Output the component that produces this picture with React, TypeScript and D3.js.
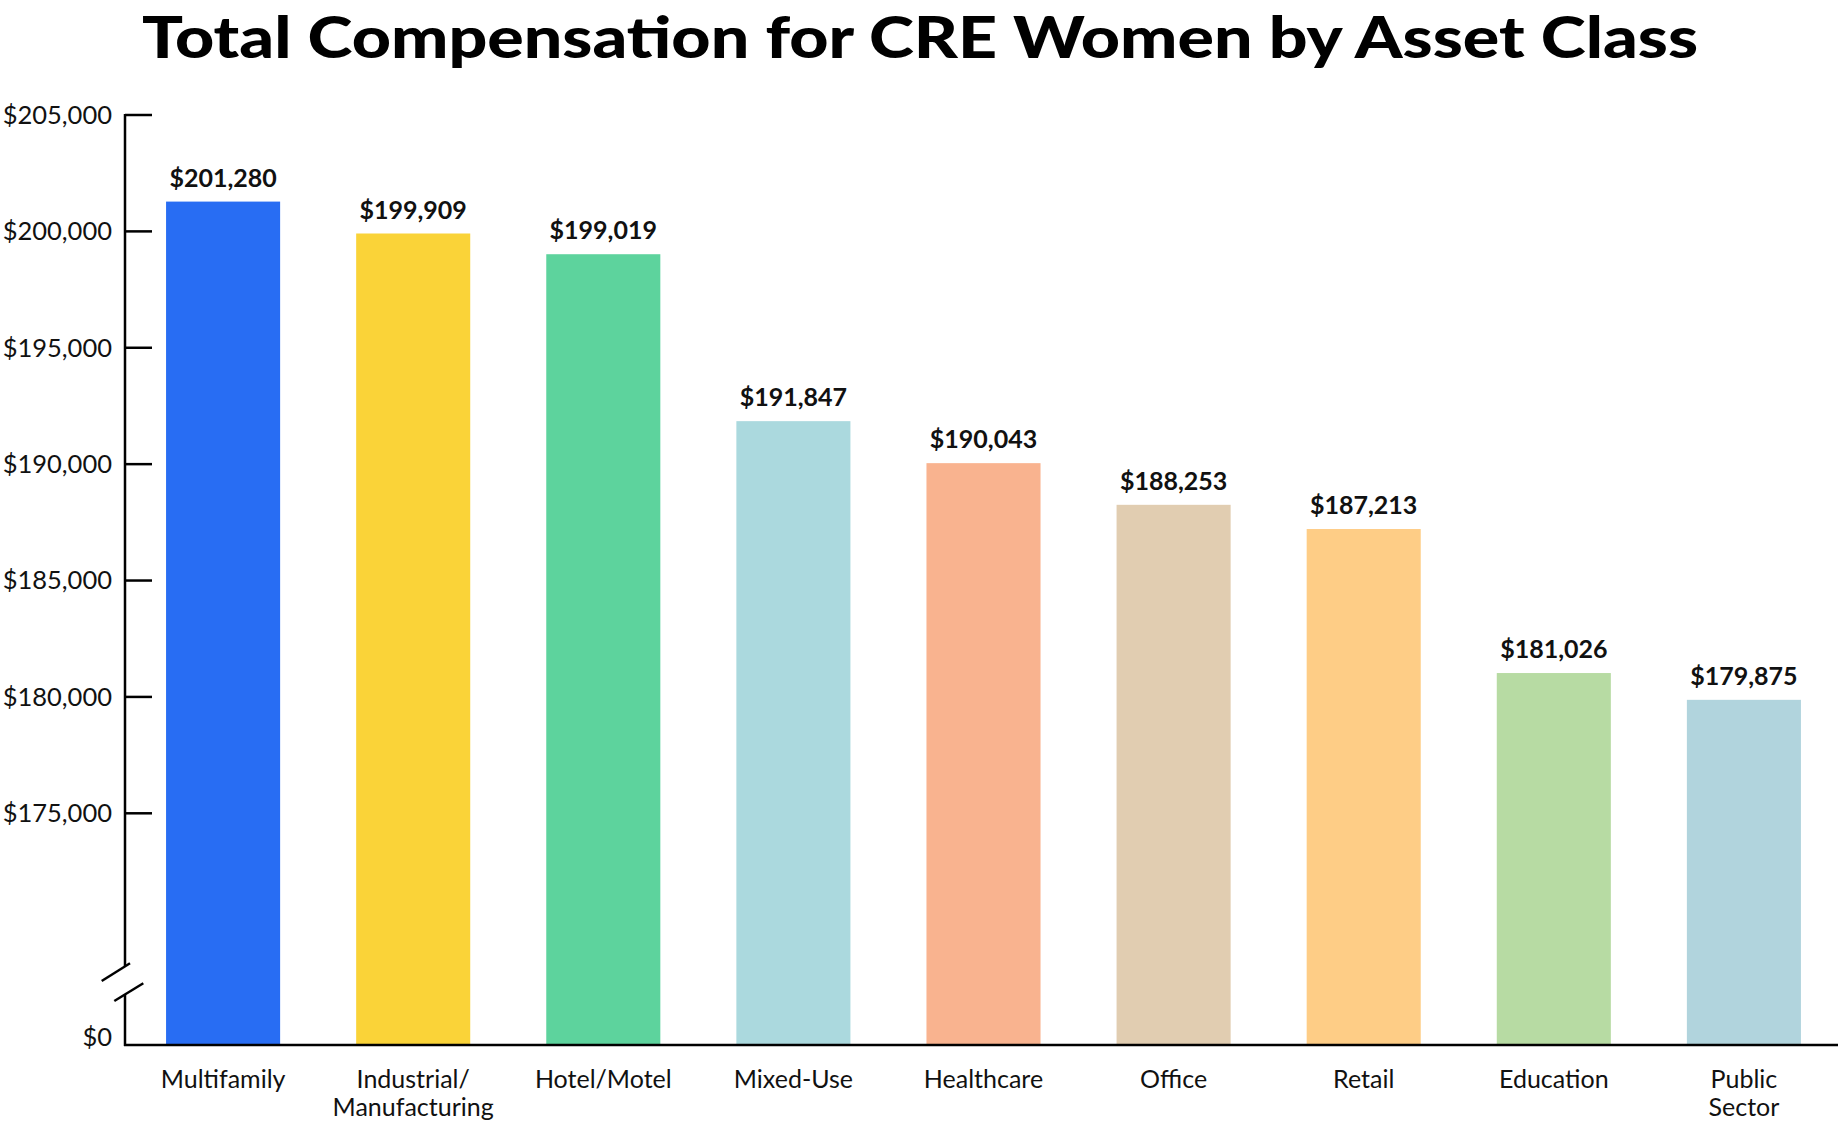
import React from 'react';
import * as d3 from 'd3';

const categories = ['Multifamily', 'Industrial/\nManufacturing', 'Hotel/Motel', 'Mixed-Use', 'Healthcare', 'Office', 'Retail', 'Education', 'Public\nSector'];
const values = [201280, 199909, 199019, 191847, 190043, 188253, 187213, 181026, 179875];
const colors = ['#286DF3', '#FAD338', '#5DD39D', '#ABD9DE', '#F9B38F', '#E1CDB1', '#FECD86', '#B7DBA3', '#B1D4DD'];
const yTicks = [205000, 200000, 195000, 190000, 185000, 180000, 175000];

const width = 1840;
const height = 1125;
const axisX = 125;
const baseY = 1045;
const font = 'Lato, "Noto Sans", sans-serif';

const x = d3.scaleBand<string>()
  .domain(categories)
  .range([axisX, 1842])
  .paddingInner(0.4)
  .paddingOuter(0.216);

// broken axis: $0 sits at the baseline, the visible part runs 175k-205k
const y = d3.scaleLinear()
  .domain([0, 175000, 205000])
  .range([baseY, 813.3, 115]);

const fmt = d3.format('$,');

export default function App() {
  return (
    <svg width={width} height={height} style={{ position: 'absolute', left: 0, top: 0, background: '#fff' }}>
      <text x={width / 2} y={58} textAnchor="middle" fontFamily={font} fontWeight={900} fontSize={57}
        textLength={1556} lengthAdjust="spacingAndGlyphs" fill="#000">
        Total Compensation for CRE Women by Asset Class
      </text>

      {categories.map((c, i) => (
        <rect key={c} x={x(c)} y={y(values[i])} width={x.bandwidth()} height={y(0) - y(values[i])} fill={colors[i]} />
      ))}

      {categories.map((c, i) => (
        <text key={c} x={(x(c) as number) + x.bandwidth() / 2} y={y(values[i]) - 15} textAnchor="middle"
          fontFamily={font} fontWeight={700} fontSize={25} fill="#111">
          {fmt(values[i])}
        </text>
      ))}

      {/* y axis with break */}
      <line x1={axisX} x2={axisX} y1={y(205000) - 1} y2={966} stroke="#000" strokeWidth={2.5} />
      <line x1={axisX} x2={axisX} y1={994.5} y2={baseY + 1} stroke="#000" strokeWidth={2.5} />
      <line x1={101.7} y1={981} x2={130} y2={963.3} stroke="#000" strokeWidth={2.5} />
      <line x1={114.3} y1={1001} x2={143.3} y2={983.3} stroke="#000" strokeWidth={2.5} />

      {yTicks.map(t => (
        <g key={t}>
          <line x1={axisX} x2={152} y1={y(t)} y2={y(t)} stroke="#000" strokeWidth={2.5} />
          <text x={112} y={y(t)} dy="0.35em" textAnchor="end" fontFamily={font} fontSize={25.5} fill="#111">
            {fmt(t)}
          </text>
        </g>
      ))}
      <text x={112} y={y(0) - 8} dy="0.35em" textAnchor="end" fontFamily={font} fontSize={25.5} fill="#111">
        {fmt(0)}
      </text>

      {/* x axis */}
      <line x1={axisX - 1} x2={1838} y1={baseY} y2={baseY} stroke="#000" strokeWidth={2.5} />
      {categories.map(c => (
        <text key={c} x={(x(c) as number) + x.bandwidth() / 2} y={1088} textAnchor="middle"
          fontFamily={font} fontSize={25} fill="#111">
          {c.split('\n').map((line, j) => (
            <tspan key={j} x={(x(c) as number) + x.bandwidth() / 2} dy={j === 0 ? 0 : 28}>{line}</tspan>
          ))}
        </text>
      ))}
    </svg>
  );
}
